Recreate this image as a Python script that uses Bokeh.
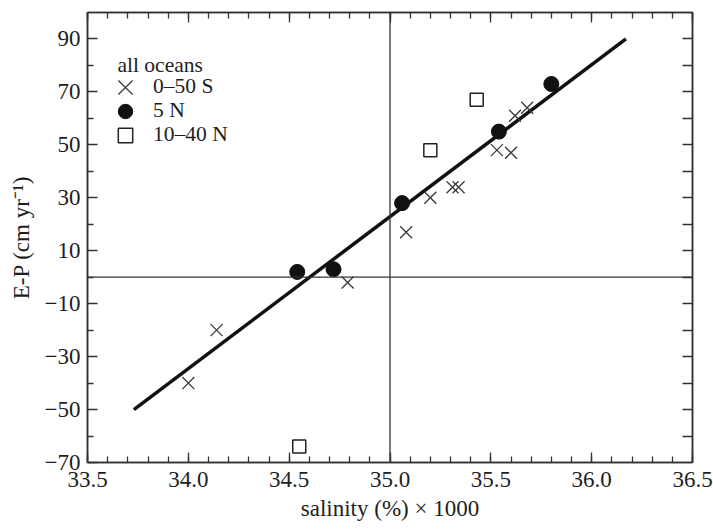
from bokeh.plotting import figure
from bokeh.models import (LinearAxis, FixedTicker, SingleIntervalTicker, PrintfTickFormatter,
                          CustomJSTickFormatter, Span, Legend, LegendItem, Range1d, Label)
from bokeh.embed import file_html
from bokeh.resources import INLINE

# ---- data ----
s_x = [34.00, 34.14, 34.79, 35.08, 35.20, 35.31, 35.34, 35.53, 35.60, 35.62, 35.68]
s_y = [-40, -20, -2, 17, 30, 34, 34, 48, 47, 61, 64]
n5_x = [34.54, 34.72, 35.06, 35.54, 35.80]
n5_y = [2, 3, 28, 55, 73]
n1040_x = [34.55, 35.20, 35.43]
n1040_y = [-64, 48, 67]
fit_x = [33.73, 36.17]
fit_y = [-50, 90]
y_major = [-70, -50, -30, -10, 10, 30, 50, 70, 90]
y_minor = [-60, -40, -20, 0, 20, 40, 60, 80]
y_right = [-60, -50, -40, -30, -20, -10, 0, 10, 20, 30, 40, 50, 60, 70, 80, 90]
labels = ["0\u201350 S", "5 N", "10\u201340 N"]
legend_title = "all oceans"

FONT = "Liberation Serif"
INK = "#1e1e1e"
FS = "23px"
LFS = "21.5px"

p = figure(width=713, height=529, x_range=Range1d(33.5, 36.5), y_range=Range1d(-70, 100),
           output_backend="svg", toolbar_location=None,
           min_border_left=87, min_border_right=21, min_border_top=12, min_border_bottom=67)
p.grid.visible = False
p.outline_line_color = "#333333"
p.outline_line_width = 1.5
p.background_fill_color = "white"

def style_axis(ax):
    ax.axis_line_color = "#333333"
    ax.axis_line_width = 1.5
    ax.major_tick_in = 10
    ax.major_tick_out = 0
    ax.minor_tick_in = 6
    ax.minor_tick_out = 0
    ax.major_tick_line_color = "#333333"
    ax.minor_tick_line_color = "#333333"
    ax.major_tick_line_width = 1.3
    ax.minor_tick_line_width = 1.3
    ax.major_label_text_font = FONT
    ax.major_label_text_font_size = FS
    ax.major_label_text_color = INK
    ax.axis_label_text_font = FONT
    ax.axis_label_text_font_size = FS
    ax.axis_label_text_font_style = "normal"
    ax.axis_label_text_color = INK

def hide_labels(ax):
    ax.formatter = CustomJSTickFormatter(code="return '';")
    ax.major_label_standoff = 0

p.xaxis.ticker = SingleIntervalTicker(interval=0.5, num_minor_ticks=5)
p.xaxis.formatter = PrintfTickFormatter(format="%.1f")
p.xaxis.axis_label = "salinity (%) \u00d7 1000"
style_axis(p.xaxis[0])
p.xaxis.major_label_standoff = 9
p.xaxis.axis_label_standoff = 6

p.yaxis.ticker = FixedTicker(ticks=y_major, minor_ticks=y_minor)
p.yaxis.formatter = CustomJSTickFormatter(
    code="return tick < 0 ? '\\u2212' + Math.abs(tick) : String(tick);")
p.yaxis.axis_label = "E-P (cm yr\u207b\u00b9)"
style_axis(p.yaxis[0])
p.yaxis.major_label_standoff = 7
p.yaxis.axis_label_standoff = 8

top = LinearAxis(ticker=SingleIntervalTicker(interval=0.5, num_minor_ticks=5))
style_axis(top)
hide_labels(top)
p.add_layout(top, "above")

right = LinearAxis(ticker=FixedTicker(ticks=y_right, minor_ticks=[]))
style_axis(right)
hide_labels(right)
p.add_layout(right, "right")

p.add_layout(Span(location=35.0, dimension="height", line_color="#333333", line_width=1.3))
p.add_layout(Span(location=0, dimension="width", line_color="#333333", line_width=1.3))

p.line(fit_x, fit_y, line_width=3.5, line_color="#111111")

r1 = p.scatter(s_x, s_y, marker="x", size=17, line_color="#3a3a3a", line_width=1.3)
r2 = p.scatter(n5_x, n5_y, marker="circle", size=15, fill_color="#111111", line_color="#111111")
r3 = p.scatter(n1040_x, n1040_y, marker="square", size=13, fill_color="white",
               line_color="#222222", line_width=1.5)

# legend rows (screen px from the frame's bottom-left): one small legend per series
frame_h = 450
glyph_cx = 38
label_x = 66
row_top = [74.5, 98.5, 122.5]           # distance of each row centre below the frame top
boxes = [50, 36, 36]                   # legend glyph box (marker drawn at 0.4 of it)
for r, lab, rc, b in zip([r1, r2, r3], labels, row_top, boxes):
    lg = Legend(items=[LegendItem(label=lab, renderers=[r])],
                location=(glyph_cx - b / 2, frame_h - rc - b / 2))
    lg.label_text_font = FONT
    lg.label_text_font_size = LFS
    lg.label_text_color = INK
    lg.label_standoff = int(label_x - (glyph_cx + b / 2))
    lg.glyph_width = b
    lg.glyph_height = b
    lg.label_height = 20
    lg.padding = 0
    lg.margin = 0
    lg.border_line_alpha = 0
    lg.background_fill_alpha = 0
    p.add_layout(lg)

p.add_layout(Label(x=30, y=frame_h - 52.5, x_units="screen", y_units="screen", text=legend_title,
                   text_font=FONT, text_font_size=LFS, text_color=INK,
                   text_baseline="alphabetic"))

open("out.html", "w").write(file_html(p, INLINE))
